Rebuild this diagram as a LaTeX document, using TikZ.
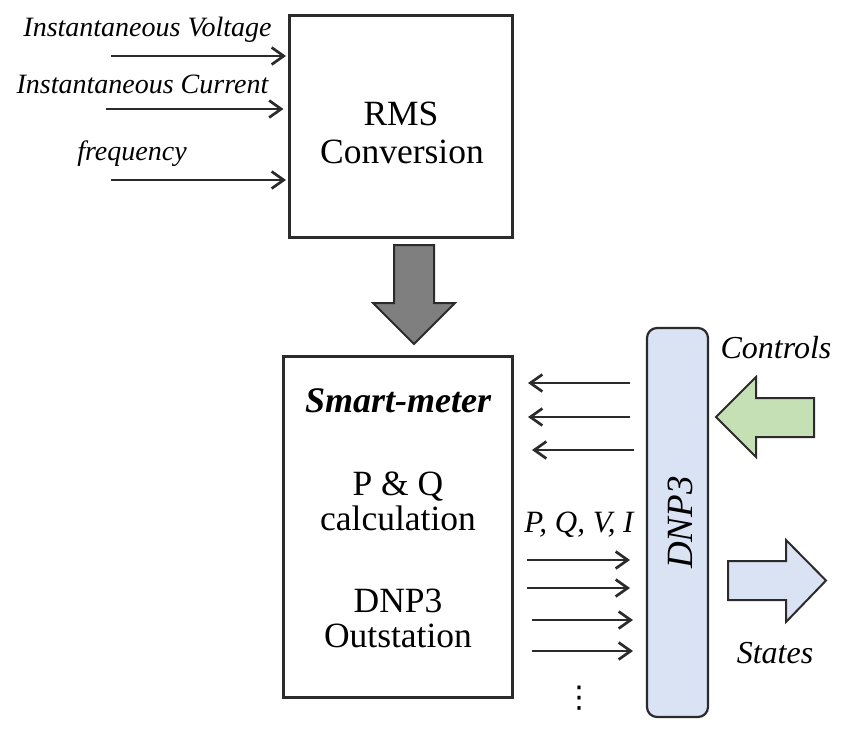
\documentclass[tikz,border=0pt]{standalone}
\usepackage{fontspec}
\setmainfont{Liberation Serif}
\newfontfamily\dejavu{DejaVu Sans}
\usetikzlibrary{arrows.meta}
\definecolor{ln}{HTML}{2B2B2B}
\definecolor{dnpblue}{HTML}{DAE3F3}
\definecolor{ctrlgreen}{HTML}{C5E0B4}
\definecolor{biggray}{HTML}{7F7F7F}
\begin{document}
\begin{tikzpicture}[x=1pt,y=1pt,
  box/.style={draw=ln,line width=3pt,inner sep=0pt},
  sig/.style={draw=ln,line width=2.7pt,-{Straight Barb[length=12pt,width=17pt,line width=2.7pt]}},
  lab/.style={font=\fontsize{28}{30}\selectfont\itshape,inner sep=0pt,anchor=base},
  main/.style={font=\fontsize{35.5}{40}\selectfont,inner sep=0pt,anchor=base},
  side/.style={font=\fontsize{32}{36}\selectfont\itshape,inner sep=0pt,anchor=base},
  fat/.style={draw=ln,line width=2pt,line join=miter}
]
\useasboundingbox (0,0) rectangle (854,-745);

% RMS block
\node[box,minimum width=223pt,minimum height=222pt] (rms) at (400.5,-126) {};
\node[main] (rmsA) at (401,-125) {RMS};
\node[main] (rmsB) at (402,-163) {Conversion};

% inputs
\node[lab] (inV) at (147.5,-36) {Instantaneous Voltage};
\node[lab] (inI) at (142.5,-93) {Instantaneous Current};
\node[lab] (inF) at (132,-160) {frequency};
\coordinate (sV) at (111,-56);
\coordinate (sI) at (106,-109);
\coordinate (sF) at (111,-180);
\draw[sig] (sV) -- ([xshift=-1.5pt]rms.west |- sV);
\draw[sig] (sI) -- ([xshift=-4pt]rms.west |- sI);
\draw[sig] (sF) -- ([xshift=-1.5pt]rms.west |- sF);

% big gray arrow
\draw[fat,fill=biggray] (394,-245) -- (434,-245) -- (434,-303) -- (455,-303)
  -- (414,-344) -- (373,-303) -- (394,-303) -- cycle;

% Smart meter
\node[box,minimum width=229pt,minimum height=341pt] (sm) at (397.5,-526.5) {};
\node[main,font=\fontsize{36}{40}\selectfont\bfseries\itshape] (smT) at (398,-412) {Smart-meter};
\node[main] (smA) at (398,-495) {P \& Q};
\node[main] (smB) at (398,-530) {calculation};
\node[main] (smC) at (398,-612) {DNP3};
\node[main] (smD) at (398,-647) {Outstation};

% DNP3 bar
\node[draw=ln,line width=2.2pt,fill=dnpblue,rounded corners=10pt,
  minimum width=61pt,minimum height=389pt,inner sep=0pt] (dnp) at (677.5,-522.5) {};
\node[font=\fontsize{37}{40}\selectfont\itshape,inner sep=0pt,anchor=base,rotate=90] (dnpT) at (692,-522.5) {DNP3};

% control arrows (bar -> meter)
\coordinate (c1s) at (630,-383); \coordinate (c1e) at (528,-383);
\coordinate (c2s) at (630,-417); \coordinate (c2e) at (528,-417);
\coordinate (c3s) at (634,-450); \coordinate (c3e) at (532,-450);
\draw[sig] (c1s) -- (c1e);
\draw[sig] (c2s) -- (c2e);
\draw[sig] (c3s) -- (c3e);

% measurement arrows (meter -> bar)
\node[side,font=\fontsize{31}{36}\selectfont\itshape] (pqvi) at (579,-532) {P, Q, V, I};
\coordinate (m1s) at (527,-560); \coordinate (m1e) at (630,-560);
\coordinate (m2s) at (527,-588); \coordinate (m2e) at (630,-588);
\coordinate (m3s) at (532,-620); \coordinate (m3e) at (633,-620);
\coordinate (m4s) at (532,-651); \coordinate (m4e) at (633,-651);
\draw[sig] (m1s) -- (m1e);
\draw[sig] (m2s) -- (m2e);
\draw[sig] (m3s) -- (m3e);
\draw[sig] (m4s) -- (m4e);
\node[font=\fontsize{30}{30}\dejavu,inner sep=0pt] (dots) at (579,-698) {⋮};

% Controls
\node[side] (ctl) at (776,-358) {Controls};
\draw[fat,fill=ctrlgreen] (716,-417) -- (756,-377) -- (756,-398) -- (814,-398)
  -- (814,-437) -- (756,-437) -- (756,-457) -- cycle;

% States
\draw[fat,fill=dnpblue] (728,-561) -- (786,-561) -- (786,-540) -- (826,-580.5)
  -- (786,-622) -- (786,-600) -- (728,-600) -- cycle;
\node[side] (st) at (775,-663) {States};
\end{tikzpicture}
\end{document}
